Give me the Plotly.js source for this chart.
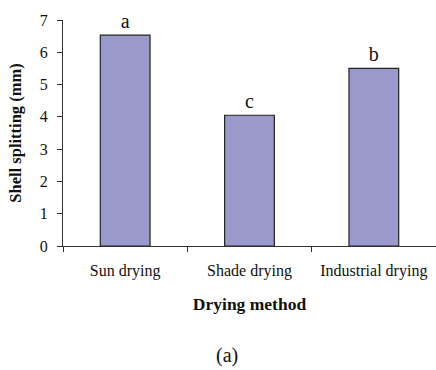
<!DOCTYPE html>
<html><head><meta charset="utf-8">
<script src="https://cdn.plot.ly/plotly-3.0.1.min.js"></script>
<style>html,body{margin:0;padding:0;background:#fff}#c{width:436px;height:370px}</style>
</head><body><div id="c"></div>
<script>
const categories = ["Sun drying", "Shade drying", "Industrial drying"];
const values = [6.53, 4.05, 5.50];
const letters = ["a", "c", "b"];
const yTicks = [0, 1, 2, 3, 4, 5, 6, 7];

const font = "Liberation Serif";
const trace = {
  type: "bar", x: categories, y: values,
  text: letters, textposition: "outside", cliponaxis: false,
  textfont: {family: font, size: 20, color: "#111"},
  marker: {color: "#9999cc", line: {color: "#222", width: 1.2}},
  hoverinfo: "none"
};
const layout = {
  width: 436, height: 370,
  margin: {l: 63, r: 0, t: 20, b: 124},
  paper_bgcolor: "#fff", plot_bgcolor: "#fff",
  bargap: 0.6, showlegend: false,
  font: {family: font, color: "#111", size: 16},
  xaxis: {
    type: "category", tickson: "boundaries", ticks: "outside", ticklen: 5, tickcolor: "#333",
    ticklabelstandoff: 10,
    showline: true, linecolor: "#333", linewidth: 1, showgrid: false, zeroline: false,
    tickfont: {family: font, size: 16, color: "#111"},
    title: {text: "<b>Drying method</b>", font: {family: font, size: 17.5, color: "#111"}, standoff: 18}
  },
  yaxis: {
    range: [0, 7], tickvals: yTicks, ticks: "outside", ticklen: 5, tickcolor: "#333",
    ticklabelstandoff: 6,
    showline: true, linecolor: "#333", linewidth: 1, showgrid: false, zeroline: false,
    tickfont: {family: font, size: 16, color: "#111"},
    title: {text: "<b>Shell splitting (mm)</b>", font: {family: font, size: 16.5, color: "#111"}, standoff: 14}
  },
  annotations: [{
    text: "(a)", xref: "paper", yref: "paper", x: 0.44, y: 0, yshift: -109,
    showarrow: false, font: {family: font, size: 20, color: "#111"}, yanchor: "middle", xanchor: "center"
  }]
};
Plotly.newPlot("c", [trace], layout, {staticPlot: true});
</script></body></html>
